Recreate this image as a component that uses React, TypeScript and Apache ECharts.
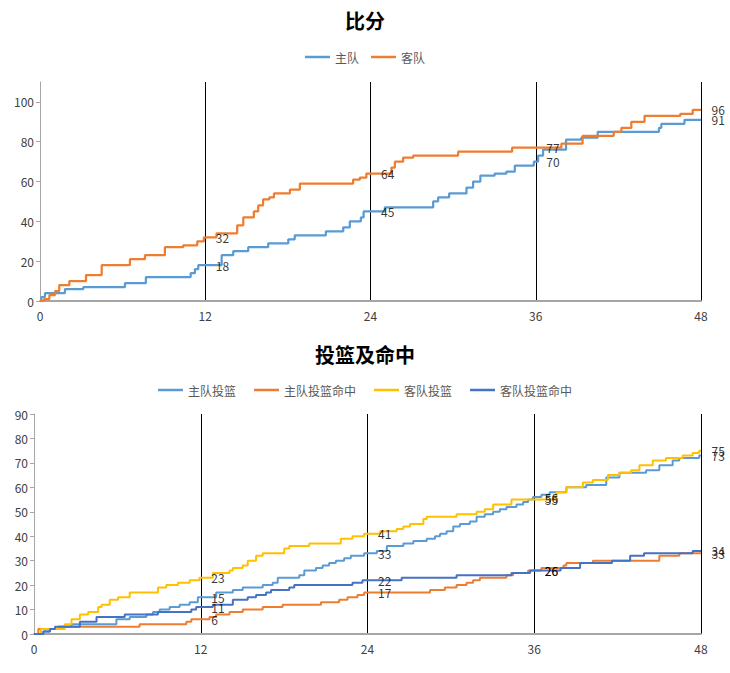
import React, { useEffect, useRef } from 'react';
import * as echarts from 'echarts';

// ---- data: change points (minute, cumulative value) ----
const labelTimes = [12, 24, 36, 48];

const homeScoreT = [0, 0.1, 0.36, 1.81, 3.15, 6.17, 7.69, 10.94, 11.25, 11.49, 13.19, 14.03, 15.12, 16.57, 18.03, 18.5, 20.76, 22.02, 22.5, 23.3, 23.5, 25.04, 28.55, 28.91, 29.71, 30.97, 31.45, 31.98, 33.02, 33.87, 34.48, 35.86, 36.17, 36.53, 38.2, 39.3, 40.5, 44.95, 45.12, 46.8, 48];
const homeScoreV = [0, 2, 4, 6, 7, 9, 12, 14, 16, 18, 23, 25, 27, 29, 31, 33, 35, 37, 40, 42, 45, 47, 50, 52, 54, 57, 60, 63, 64, 65, 68, 70, 73, 76, 81, 82, 85, 87, 89, 91, 91];

const awayScoreT = [0, 0.3, 0.68, 1.09, 1.4, 2.13, 3.34, 4.48, 6.53, 7.62, 9.07, 10.4, 11.42, 11.9, 12.82, 14.32, 14.76, 15.53, 15.85, 16.2, 16.65, 16.99, 18.15, 18.87, 22.74, 23.23, 23.7, 25.52, 25.77, 26.37, 27.1, 30.36, 34.28, 37.86, 39.4, 41.66, 42.22, 42.94, 43.9, 46.5, 47.4, 48];
const awayScoreV = [0, 1, 3, 5, 8, 10, 13, 18, 21, 23, 27, 28, 30, 32, 34, 38, 42, 45, 48, 51, 52, 54, 56, 59, 61, 62, 64, 67, 70, 72, 73, 75, 77, 79, 83, 85, 87, 90, 93, 94, 96, 96];

const homeShotT = [0, 0.67, 1.15, 1.75, 2.7, 5.93, 6.89, 8.09, 8.56, 9.04, 9.76, 10.48, 11.2, 11.79, 13.11, 14.31, 15.02, 16.46, 17.18, 17.54, 19.09, 19.45, 20.29, 20.77, 21.24, 21.72, 22.32, 22.8, 23.76, 24.67, 25.39, 26.58, 27.3, 28.26, 28.86, 29.22, 29.69, 30.17, 30.65, 31.37, 31.85, 32.44, 33.04, 33.52, 34.0, 34.72, 35.2, 35.56, 35.91, 36.51, 37.11, 38.31, 39.74, 41.18, 42.13, 44.05, 45.0, 45.96, 46.44, 47.87, 48];
const homeShotV = [0, 1, 2, 3, 4, 6, 7, 8, 9, 10, 11, 12, 13, 15, 17, 18, 19, 20, 21, 23, 24, 26, 27, 28, 29, 30, 31, 32, 33, 34, 36, 37, 38, 39, 40, 41, 42, 44, 45, 46, 48, 49, 50, 51, 52, 53, 54, 55, 56, 57, 58, 60, 61, 64, 66, 67, 69, 71, 72, 73, 73];

const homeMadeT = [0, 0.31, 1.75, 7.6, 10.96, 11.32, 12.63, 13.11, 14.07, 15.02, 16.46, 17.89, 20.65, 21.96, 22.56, 23.28, 23.76, 28.5, 29.57, 30.41, 31.13, 31.6, 32.09, 34.0, 34.48, 35.56, 36.51, 38.1, 38.31, 40.22, 45.0, 46.44, 48];
const homeMadeV = [0, 2, 3, 4, 5, 6, 7, 8, 9, 10, 11, 12, 13, 14, 15, 16, 17, 18, 19, 20, 21, 22, 23, 24, 25, 26, 27, 28, 29, 30, 32, 33, 33];

const awayShotT = [0, 0.5, 2.22, 2.7, 3.3, 3.9, 4.62, 4.86, 5.45, 6.05, 6.89, 8.92, 9.52, 10.36, 11.2, 11.91, 12.87, 14.07, 14.31, 15.02, 15.38, 15.98, 16.46, 18.01, 18.37, 19.81, 22.08, 22.92, 23.76, 24.91, 26.1, 26.58, 27.06, 28.02, 28.26, 30.41, 31.85, 32.44, 33.04, 34.36, 37.59, 38.31, 39.5, 40.22, 41.3, 42.13, 42.97, 43.57, 44.53, 45.48, 46.68, 47.4, 47.87, 48];
const awayShotV = [0, 2, 4, 6, 8, 9, 11, 12, 14, 15, 17, 19, 20, 21, 22, 23, 25, 26, 27, 28, 30, 32, 33, 35, 36, 37, 39, 40, 41, 42, 43, 44, 45, 47, 48, 49, 50, 51, 53, 55, 58, 60, 62, 63, 65, 66, 67, 69, 71, 72, 73, 74, 75, 75];

const awayMadeT = [0, 0.67, 1.15, 1.51, 3.3, 4.5, 6.53, 8.92, 11.32, 11.67, 12.87, 14.31, 15.38, 15.98, 16.7, 17.06, 18.37, 18.73, 22.92, 23.64, 26.46, 30.41, 34.36, 35.7, 37.9, 39.3, 41.6, 42.9, 43.9, 47.4, 48];
const awayMadeV = [0, 1, 2, 3, 5, 7, 8, 9, 10, 11, 12, 14, 15, 16, 17, 18, 19, 20, 21, 22, 23, 24, 25, 26, 27, 29, 30, 32, 33, 34, 34];

const scoreNames = ['主队', '客队'];
const shotNames = ['主队投篮', '主队投篮命中', '客队投篮', '客队投篮命中'];

const C_BLUE = '#5B9BD5';
const C_ORANGE = '#ED7D31';
const C_YELLOW = '#FFC000';
const C_DBLUE = '#4472C4';
const FONT = "'Noto Sans CJK SC', 'Noto Sans', sans-serif";

function pairs(t: number[], v: number[]) {
  return t.map((x, i) => [x, v[i]]);
}
function valueAt(t: number[], v: number[], time: number) {
  let r = v[0];
  for (let i = 0; i < t.length; i++) if (t[i] <= time) r = v[i];
  return r;
}

function lineSeries(name: string, color: string, t: number[], v: number[], idx: number, width: number) {
  return {
    name,
    type: 'line',
    step: 'end',
    xAxisIndex: idx,
    yAxisIndex: idx,
    data: pairs(t, v),
    symbol: 'none',
    lineStyle: { color, width },
    itemStyle: { color },
    z: 3,
  };
}
function labelSeries(name: string, t: number[], v: number[], idx: number) {
  return {
    name: name + '_label',
    type: 'scatter',
    xAxisIndex: idx,
    yAxisIndex: idx,
    silent: true,
    symbolSize: 1,
    itemStyle: { color: 'rgba(0,0,0,0)' },
    data: labelTimes.map((tt) => [tt, valueAt(t, v, tt)]),
    label: {
      show: true,
      position: 'right',
      distance: 10,
      color: '#000',
      fontSize: 12,
      fontFamily: FONT,
      formatter: (p: any) => String(p.value[1]),
    },
    z: 5,
  };
}

function xAxis(idx: number) {
  return {
    type: 'value',
    gridIndex: idx,
    min: 0,
    max: 48,
    interval: 12,
    axisLine: { show: true, lineStyle: { color: '#a6a6a6', width: 2 } },
    axisTick: { show: false },
    axisLabel: { color: '#404040', fontSize: 12, fontFamily: FONT, margin: 8 },
    splitLine: { show: true, showMinLine: false, lineStyle: { color: '#000', width: 1 } },
  };
}
function yAxis(idx: number, max: number, interval: number) {
  return {
    type: 'value',
    gridIndex: idx,
    min: 0,
    max,
    interval,
    axisLine: { show: true, lineStyle: { color: '#a6a6a6', width: 1 } },
    axisTick: { show: true, length: 4, lineStyle: { color: '#a6a6a6' } },
    axisLabel: { color: '#404040', fontSize: 12, fontFamily: FONT, margin: 6, showMaxLabel: max % interval === 0 },
    splitLine: { show: false },
  };
}

export default function App() {
  const ref = useRef<HTMLDivElement>(null);
  useEffect(() => {
    document.body.style.margin = '0';
    if (!ref.current) return;
    const chart = echarts.init(ref.current, undefined, { renderer: 'svg' });
    const legendBase = {
      left: 'center',
      icon: 'rect',
      itemWidth: 25,
      itemHeight: 2.5,
      textStyle: { fontSize: 12, color: '#595959', fontFamily: FONT },
    };
    const option = {
      animation: false,
      backgroundColor: '#fff',
      textStyle: { fontFamily: FONT },
      title: [
        { text: '比分', left: 'center', top: 10, padding: 0, textStyle: { fontSize: 20, fontWeight: 'bold', color: '#000', fontFamily: FONT } },
        { text: '投篮及命中', left: 'center', top: 344, padding: 0, textStyle: { fontSize: 20, fontWeight: 'bold', color: '#000', fontFamily: FONT } },
      ],
      legend: [
        { ...legendBase, data: scoreNames, top: 46, itemGap: 12 },
        { ...legendBase, data: shotNames, top: 379, itemGap: 18 },
      ],
      grid: [
        { left: 40, right: 29, top: 82, height: 219 },
        { left: 34, right: 29, top: 414, height: 220 },
      ],
      xAxis: [xAxis(0), xAxis(1)],
      yAxis: [yAxis(0, 110, 20), yAxis(1, 90, 10)],
      series: [
        lineSeries(scoreNames[0], C_BLUE, homeScoreT, homeScoreV, 0, 2.25),
        lineSeries(scoreNames[1], C_ORANGE, awayScoreT, awayScoreV, 0, 2.25),
        labelSeries(scoreNames[0], homeScoreT, homeScoreV, 0),
        labelSeries(scoreNames[1], awayScoreT, awayScoreV, 0),
        lineSeries(shotNames[0], C_BLUE, homeShotT, homeShotV, 1, 2),
        lineSeries(shotNames[1], C_ORANGE, homeMadeT, homeMadeV, 1, 2),
        lineSeries(shotNames[2], C_YELLOW, awayShotT, awayShotV, 1, 2),
        lineSeries(shotNames[3], C_DBLUE, awayMadeT, awayMadeV, 1, 2),
        labelSeries(shotNames[0], homeShotT, homeShotV, 1),
        labelSeries(shotNames[1], homeMadeT, homeMadeV, 1),
        labelSeries(shotNames[2], awayShotT, awayShotV, 1),
        labelSeries(shotNames[3], awayMadeT, awayMadeV, 1),
      ],
    };
    chart.setOption(option as any);
    return () => chart.dispose();
  }, []);
  return <div ref={ref} style={{ width: 730, height: 673 }} />;
}
